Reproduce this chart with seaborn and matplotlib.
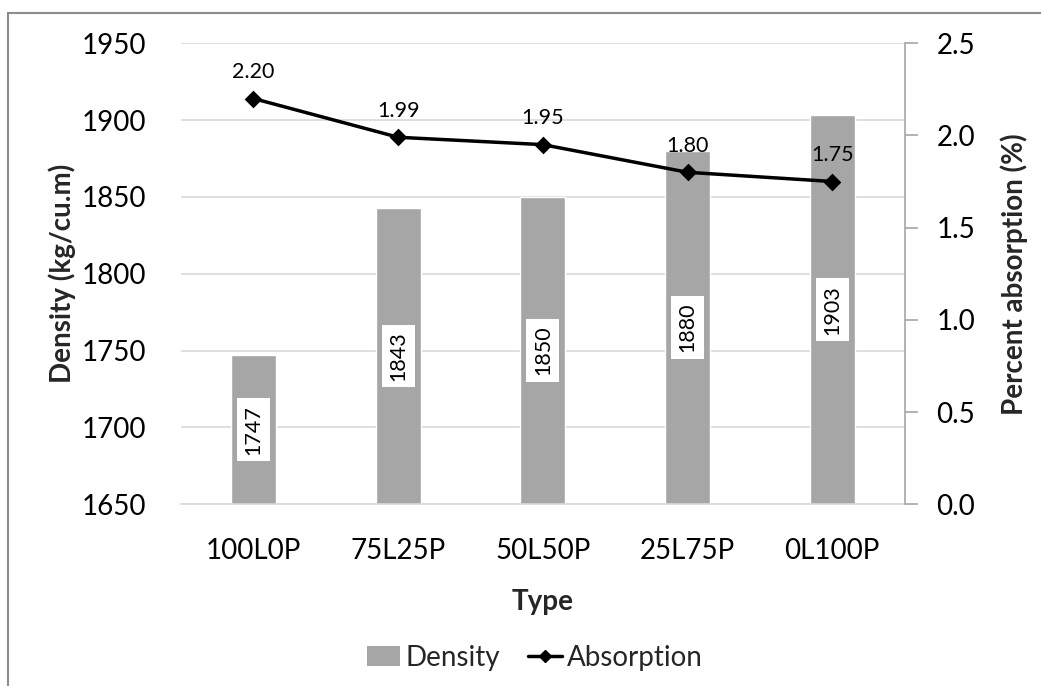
import matplotlib
matplotlib.use("Agg")
import matplotlib.pyplot as plt
from matplotlib.patches import Patch, Rectangle
from matplotlib.lines import Line2D
import seaborn as sns
import pandas as pd

types = ["100L0P", "75L25P", "50L50P", "25L75P", "0L100P"]
density = [1747, 1843, 1850, 1880, 1903]
absorption = [2.20, 1.99, 1.95, 1.80, 1.75]
left_ticks = [1650, 1700, 1750, 1800, 1850, 1900, 1950]
right_ticks = [0.0, 0.5, 1.0, 1.5, 2.0, 2.5]

sns.set_theme(style="white")
plt.rcParams['font.family'] = ['Lato', 'DejaVu Sans']

df = pd.DataFrame({"Type": types, "Density": density, "Absorption": absorption})

fig = plt.figure(figsize=(10.41, 6.86), dpi=100)
ax = fig.add_axes([0.174, 0.265, 0.695, 0.672])

sns.barplot(data=df, x="Type", y="Density", color="#A6A6A6", saturation=1,
            width=0.31, ax=ax, zorder=2)
ax.set_ylim(1650, 1950)
ax.set_yticks(left_ticks)
ax.set_xlim(-0.5, 4.5)
ax.yaxis.grid(True, color="#D9D9D9", lw=1.2, zorder=0)
ax.set_axisbelow(True)
for s in ["left", "top", "right"]:
    ax.spines[s].set_visible(False)
ax.spines["bottom"].set_color("#D9D9D9")
ax.spines["bottom"].set_linewidth(1.2)
ax.tick_params(axis="both", length=0, labelsize=20, colors="black")
ax.tick_params(axis="x", pad=24)
ax.tick_params(axis="y", pad=25)
ax.set_xlabel("Type", fontsize=20, fontweight="bold", labelpad=18)
ax.set_ylabel("Density (kg/cu.m)", fontsize=20, fontweight="bold", labelpad=4)

# bar value labels (rotated, white box, centered in visible bar)
for i, c in enumerate(ax.containers[0]):
    h = density[i]
    ymid = (1650 + h) / 2
    ax.text(c.get_x() + c.get_width() / 2, ymid, f"{h}", rotation=90,
            ha="center", va="center", fontsize=15.5, color="black", zorder=4,
            bbox=dict(boxstyle="square,pad=0.3", fc="white", ec="none"))

ax2 = ax.twinx()
sns.pointplot(data=df, x="Type", y="Absorption", color="black", markers="D",
              linestyles="-", ax=ax2, markersize=7, linewidth=2.5, zorder=5)
ax2.set_ylim(0, 2.5)
ax2.set_yticks(right_ticks)
ax2.set_yticklabels([f"{t:.1f}" for t in right_ticks])
ax2.set_xlim(-0.5, 4.5)
for s in ["left", "top", "bottom"]:
    ax2.spines[s].set_visible(False)
ax2.spines["right"].set_color("#A6A6A6")
ax2.spines["right"].set_linewidth(1.2)
ax2.tick_params(axis="y", direction="out", length=9, width=1.2, color="#A6A6A6",
                labelsize=20, labelcolor="black", pad=14, right=True)
ax2.set_xlabel("")
ax2.set_ylabel("Percent absorption (%)", fontsize=20, fontweight="bold", labelpad=18)
ax2.grid(False)

for i, v in enumerate(absorption):
    ax2.annotate(f"{v:.2f}", (i, v), xytext=(0, 19), textcoords="offset points",
                 ha="center", va="center", fontsize=15.5, color="black")

handles = [Patch(facecolor="#A6A6A6", edgecolor="none"),
           Line2D([], [], color="black", marker="D", markersize=6, lw=2.5)]
fig.legend(handles, ["Density", "Absorption"], loc="center",
           bbox_to_anchor=(0.514, 0.041), ncol=2, frameon=False, fontsize=20,
           handlelength=1.2, handletextpad=0.2, columnspacing=1.0)

fig.patches.append(Rectangle((8 / 1041, -0.1), 1.2, 1 - 13 / 686 + 0.1,
                             transform=fig.transFigure, fill=False,
                             edgecolor="#8C8C8C", lw=1.5, zorder=0))

fig.savefig("out.png", dpi=100)
